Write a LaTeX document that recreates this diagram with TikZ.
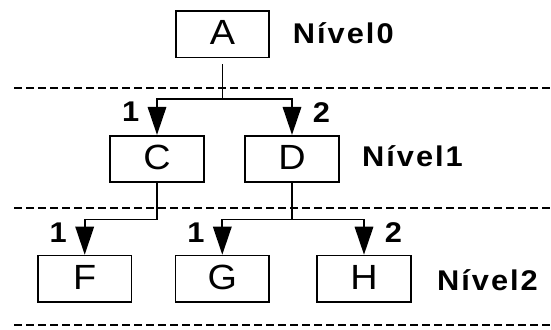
\documentclass[tikz,border=0pt]{standalone}
\usepackage{fontspec}
\setmainfont{Liberation Sans}
\newfontfamily\boxfont[FakeStretch=1.08]{Liberation Sans}
\newfontfamily\levelfont[FakeStretch=1.08,LetterSpace=7]{Liberation Sans}
\newfontfamily\numfont[FakeStretch=1.08]{Liberation Sans}
\usetikzlibrary{arrows.meta,positioning}
\tikzset{
  box/.style={draw, line width=1.7pt, minimum width=93.5pt, minimum height=46.5pt, inner sep=0pt, text depth=3pt, font=\fontsize{35}{40}\boxfont},
  link/.style={line width=1.7pt},
  arr/.style={link, -{Triangle[width=18.5pt,length=28pt]}},
  num/.style={inner sep=0pt, font=\fontsize{28.5}{32}\numfont\bfseries},
  level/.style={inner sep=0pt, font=\fontsize{28.5}{32}\levelfont\bfseries},
  sep/.style={line width=1.7pt, dash pattern=on 8pt off 4pt}
}

\begin{document}
\begin{tikzpicture}[x=1pt,y=-1pt]
\useasboundingbox (0,0) rectangle (551,329);
% boxes
\node[box] (A) at (222.5,34.2) {A};
\node[box] (C) at (157,159) {C};
\node[box] (D) at (292,159) {D};
\node[box] (F) at (84.7,278.8) {F};
\node[box] (G) at (222.3,278.8) {G};
\node[box] (H) at (364,278.8) {H};
% levels
\node[level] (lvl0) at (343.3,33) {Nível0};
\node[level] (lvl1) at (412.5,156) {Nível1};
\node[level] (lvl2) at (487.5,280) {Nível2};
% separators
\foreach \y in {88.3,208.3,325}
 \draw[sep] (14,\y) -- (551,\y);
% level 0 -> 1
\draw[link] ([yshift=-6pt]A.south) -- ++(0,34.9) coordinate (a1);
\draw[arr] (a1) -| (C.north) node[num, pos=0.68, left=17pt] (nC) {1};
\draw[arr] (a1) -| (D.north) node[num, pos=0.68, right=20pt] (nD) {2};
% level 1 -> 2
\draw[link] (C.south) -- ++(0,36.5) coordinate (c1);
\draw[link] (D.south) -- ++(0,36.5) coordinate (d1);
\draw[arr] (c1) -| (F.north) node[num, pos=0.68, left=17pt] (nF) {1};
\draw[arr] (d1) -| (G.north) node[num, pos=0.68, left=17pt] (nG) {1};
\draw[arr] (d1) -| (H.north) node[num, pos=0.68, right=20pt] (nH) {2};
\end{tikzpicture}
\end{document}
